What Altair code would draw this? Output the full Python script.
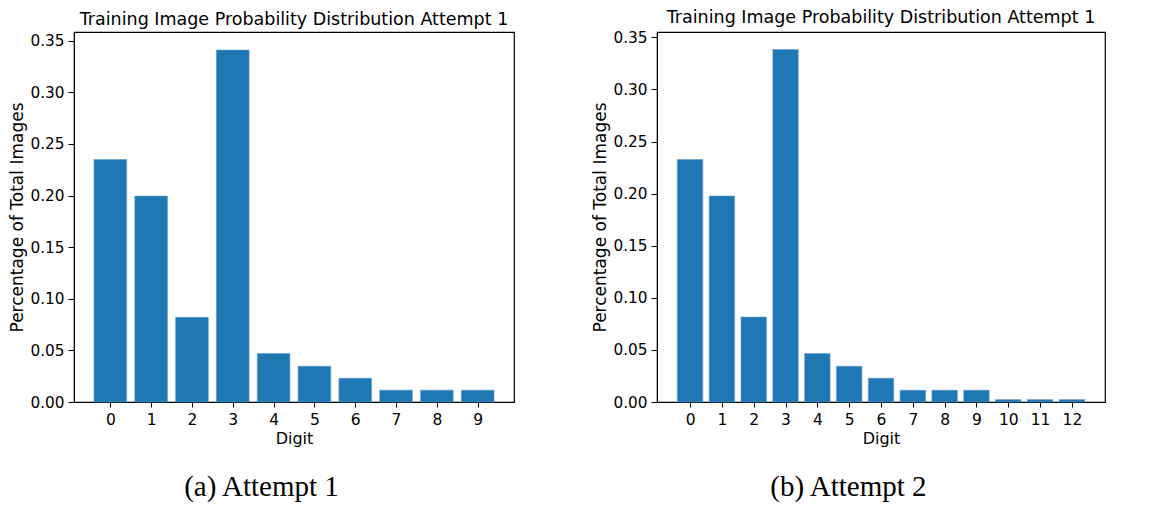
import altair as alt
import pandas as pd

digits_a = [0, 1, 2, 3, 4, 5, 6, 7, 8, 9]
probs_a = [0.235, 0.1995, 0.082, 0.341, 0.047, 0.0347, 0.023, 0.0115, 0.0115, 0.0115]

digits_b = [0, 1, 2, 3, 4, 5, 6, 7, 8, 9, 10, 11, 12]
probs_b = [0.2327, 0.1977, 0.0815, 0.3382, 0.0465, 0.0343, 0.0228, 0.0113, 0.0113, 0.0113,
           0.0023, 0.0023, 0.0023]

title_text = "Training Image Probability Distribution Attempt 1"
captions = ["(a) Attempt 1", "(b) Attempt 2"]
y_ticks = [0.0, 0.05, 0.10, 0.15, 0.20, 0.25, 0.30, 0.35]

FONT = "DejaVu Sans"
BLUE = "#1f77b4"


def panel(digits, probs, width, ymax, caption):
    df = pd.DataFrame({"digit": digits, "p": probs})
    n = len(digits)
    lo = -0.4 - 0.05 * (n - 1 + 0.8)
    hi = n - 1 + 0.4 + 0.05 * (n - 1 + 0.8)
    bars = (
        alt.Chart(df)
        .transform_calculate(x0="datum.digit - 0.4", x1="datum.digit + 0.4")
        .mark_bar(color=BLUE, stroke="#5a9bd0", strokeWidth=0.6)
        .encode(
            x=alt.X(
                "x0:Q",
                scale=alt.Scale(domain=[lo, hi], nice=False, zero=False),
                axis=alt.Axis(values=digits, format="d", title="Digit", labelFlush=False,
                              tickSize=5, labelPadding=5, labelFontSize=15.5, titleFontSize=16),
            ),
            x2="x1:Q",
            y=alt.Y(
                "p:Q",
                scale=alt.Scale(domain=[0, ymax], nice=False),
                axis=alt.Axis(values=y_ticks, format=".2f", title="Percentage of Total Images",
                              tickSize=6, labelPadding=4, labelFontSize=15.3,
                              titleFontSize=17, titlePadding=3),
            ),
            y2=alt.datum(0),
        )
        .properties(width=width, height=370, title=alt.Title(title_text, fontSize=17.5, font=FONT,
                                                             fontWeight="normal", color="black",
                                                             offset=4))
    )
    return alt.vconcat(
        bars,
        title=alt.Title(caption, orient="bottom", font="Liberation Serif", fontSize=29,
                        fontWeight="normal", color="black", offset=26, anchor="middle"),
    )


a = panel(digits_a, probs_a, 440, 0.3585, captions[0])
b = panel(digits_b, probs_b, 448, 0.3551, captions[1])

chart = (
    alt.hconcat(a, b, spacing=76)
    .configure_view(stroke="black", strokeWidth=1.2)
    .configure_axis(
        grid=False,
        domainColor="black",
        tickColor="black",
        labelFont=FONT,
        labelColor="black",
        titleFont=FONT,
        titleFontWeight="normal",
        titleColor="black",
    )
    .configure_axisX(titlePadding=3)
    .configure_concat(spacing=0)
    .properties(background="white", padding=0)
)

chart.save("out.html", embed_options={"renderer": "svg", "actions": False})
